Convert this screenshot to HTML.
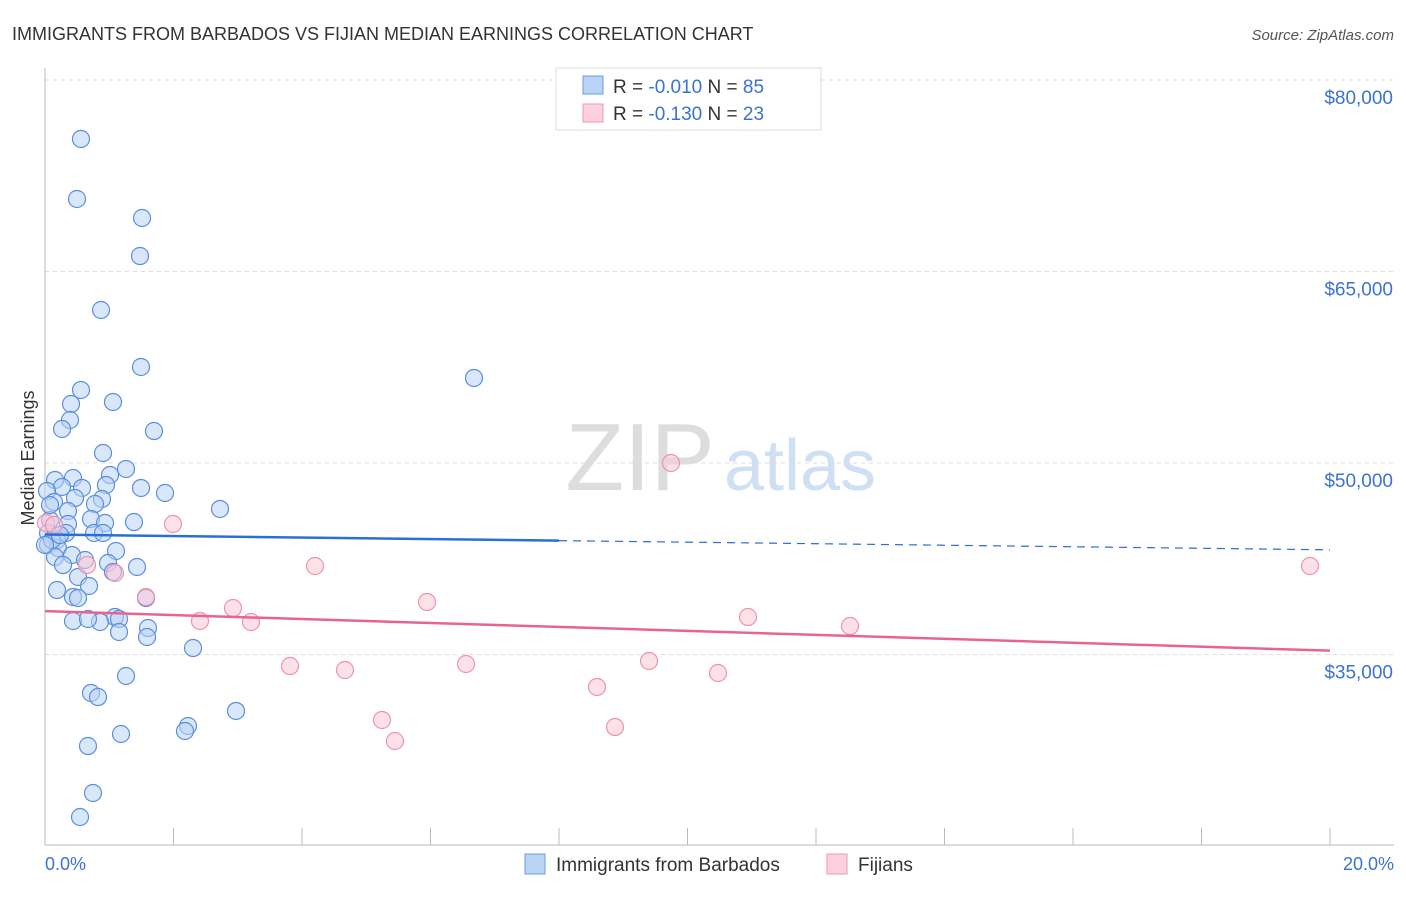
<!DOCTYPE html>
<html><head><meta charset="utf-8"><style>
body{margin:0;background:#fff;font-family:"Liberation Sans",sans-serif}
svg text{font-family:"Liberation Sans",sans-serif}
</style></head><body>
<svg width="1406" height="892" viewBox="0 0 1406 892" xmlns="http://www.w3.org/2000/svg">
<text x="12" y="40" font-size="18" fill="#333">IMMIGRANTS FROM BARBADOS VS FIJIAN MEDIAN EARNINGS CORRELATION CHART</text>
<text x="1394" y="40" font-size="15" fill="#555" font-style="italic" text-anchor="end">Source: ZipAtlas.com</text>
<text x="640" y="490" font-size="96" fill="#ddd" font-family="Liberation Serif" text-anchor="middle">ZIP</text>
<text x="800" y="490" font-size="72" fill="#cfe0f5" text-anchor="middle">atlas</text>
<g id="grid"></g>
<g id="axes"></g>
<g id="marks"></g>
<text x="34" y="458" font-size="18" fill="#333" text-anchor="middle" transform="rotate(-90 34 458)">Median Earnings</text>
<text x="45" y="870" font-size="18" fill="#3b73d1">0.0%</text>
<text x="1394" y="870" font-size="18" fill="#3b73d1" text-anchor="end">20.0%</text>
<g>
<rect x="556" y="68" width="265" height="62" fill="#fff" stroke="#ddd"/>
<rect x="583" y="76" width="20" height="18" fill="#b9d3f5" stroke="#6b9de0"/>
<rect x="583" y="104" width="20" height="18" fill="#fcd0dc" stroke="#ef9ab2"/>
<text x="613" y="93" font-size="19" fill="#333">R = <tspan fill="#3b73d1">-0.010</tspan>   N = <tspan fill="#3b73d1">85</tspan></text>
<text x="613" y="120" font-size="19" fill="#333">R = <tspan fill="#3b73d1"> -0.130</tspan>   N = <tspan fill="#3b73d1">23</tspan></text>
</g>
<g>
<rect x="525" y="854" width="20" height="20" fill="#b9d3f5" stroke="#6b9de0"/>
<text x="556" y="871" font-size="19" fill="#333">Immigrants from Barbados</text>
<rect x="827" y="854" width="20" height="20" fill="#fcd0dc" stroke="#ef9ab2"/>
<text x="858" y="871" font-size="19" fill="#333">Fijians</text>
</g>
</svg>
<script>
const yTicks=[35000,50000,65000,80000];
const yTickLabels=["$35,000","$50,000","$65,000","$80,000"];
const xTicks=[0,2,4,6,8,10,12,14,16,18,20];
const bluePx=[[81,139],[77,199],[142,218],[140,256],[101,310],[141,367],[474,378],[81,390],[113,402],[71,404],[70,420],[62,429],[154,431],[103,453],[126,469],[110,475],[55,480],[73,478],[62,487],[47,491],[141,488],[165,493],[82,488],[106,485],[102,499],[75,498],[54,502],[95,504],[220,509],[68,511],[91,519],[134,522],[105,523],[68,524],[50,520],[66,533],[94,533],[103,533],[48,533],[57,540],[48,545],[58,548],[116,551],[72,555],[55,557],[85,560],[108,563],[137,567],[63,565],[113,572],[78,577],[89,586],[57,590],[73,597],[78,598],[146,598],[115,617],[73,621],[100,622],[88,619],[119,619],[148,628],[119,632],[147,637],[193,648],[126,676],[91,693],[98,697],[236,711],[188,726],[185,731],[88,746],[121,734],[93,793],[80,817],[52,540],[60,535],[45,545],[50,505]];
const pinkPx=[[46,523],[54,525],[173,524],[87,565],[115,573],[146,597],[233,608],[200,621],[251,622],[315,566],[427,602],[290,666],[345,670],[466,664],[382,720],[395,741],[597,687],[615,727],[649,661],[671,463],[718,673],[748,617],[850,626],[1310,566]];
// data arrays (percent, dollars) derived from readings
const blueX=bluePx.map(p=>+((p[0]-45)/1285*20).toFixed(3));
const blueY=bluePx.map(p=>Math.round(80000-(p[1]-80)/0.012767));
const pinkX=pinkPx.map(p=>+((p[0]-45)/1285*20).toFixed(3));
const pinkY=pinkPx.map(p=>Math.round(80000-(p[1]-80)/0.012767));
const blueTrend=[44400,43200];const pinkTrend=[38400,35300];
const X=v=>45+v/20*1285, Y=v=>80+(80000-v)*0.012767;
const NS="http://www.w3.org/2000/svg";
function mk(t,a,p){const e=document.createElementNS(NS,t);for(const k in a)e.setAttribute(k,a[k]);p.appendChild(e);return e;}
const grid=document.getElementById('grid'),axes=document.getElementById('axes'),marks=document.getElementById('marks');
yTicks.forEach((v,i)=>{
 const l=mk('line',{x1:45,x2:1394,y1:Y(v),y2:Y(v),stroke:'#ddd','stroke-dasharray':'4,4'},grid);
 
 
 const t=mk('text',{x:1393,y:Y(v)+24,'font-size':19,fill:'#3b73d1','text-anchor':'end'},axes);t.textContent=yTickLabels[i];
 
 
});
const a1=mk('line',{x1:45,x2:45,y1:68,y2:845,stroke:'#bbb'},axes);


const a2=mk('line',{x1:45,x2:1394,y1:845,y2:845,stroke:'#bbb'},axes);


xTicks.forEach(v=>{const t=mk('line',{x1:X(v),x2:X(v),y1:828,y2:845,stroke:'#bbb'},axes);
 
 });
function dots(xs,ys,fill,stroke,name){xs.forEach((x,i)=>{const c=mk('circle',{cx:X(x),cy:Y(ys[i]),r:8.5,fill:fill,'fill-opacity':0.55,stroke:stroke,'stroke-width':1.2},marks);
 
 });}
dots(blueX,blueY,'#b9d3f5','#5b8fdc','barbados-point');
dots(pinkX,pinkY,'#fbc9d7','#ee93ad','fijian-point');
const bm=blueTrend[0]+(blueTrend[1]-blueTrend[0])*(8/20);
const t1=mk('line',{x1:X(0),y1:Y(blueTrend[0]),x2:X(8),y2:Y(bm),stroke:'#2a6fd4','stroke-width':2.5},marks);


const t2=mk('line',{x1:X(8),y1:Y(bm),x2:X(20),y2:Y(blueTrend[1]),stroke:'#2a6fd4','stroke-width':1.2,'stroke-dasharray':'8,6'},marks);


const t3=mk('line',{x1:X(0),y1:Y(pinkTrend[0]),x2:X(20),y2:Y(pinkTrend[1]),stroke:'#e8648f','stroke-width':2.5},marks);


</script>
</body></html>
